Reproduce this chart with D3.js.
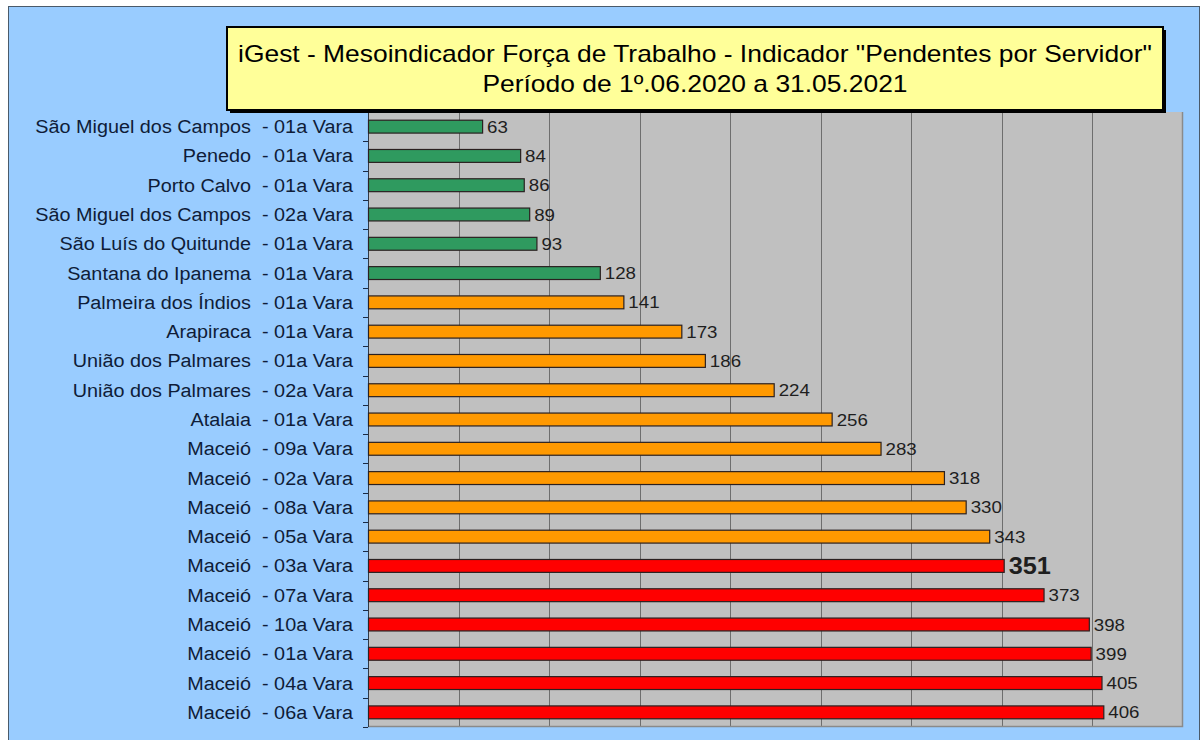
<!DOCTYPE html>
<html>
<head>
<meta charset="utf-8">
<script src="https://cdn.jsdelivr.net/npm/d3@7"></script>
<style>
  body { margin: 0; background: #fff; }
  text { font-family: "Liberation Sans", Arial, Helvetica, sans-serif; white-space: pre; }
</style>
</head>
<body>
<div id="chart"></div>
<script>
var categories = [
  "São Miguel dos Campos  - 01a Vara",
  "Penedo  - 01a Vara",
  "Porto Calvo  - 01a Vara",
  "São Miguel dos Campos  - 02a Vara",
  "São Luís do Quitunde  - 01a Vara",
  "Santana do Ipanema  - 01a Vara",
  "Palmeira dos Índios  - 01a Vara",
  "Arapiraca  - 01a Vara",
  "União dos Palmares  - 01a Vara",
  "União dos Palmares  - 02a Vara",
  "Atalaia  - 01a Vara",
  "Maceió  - 09a Vara",
  "Maceió  - 02a Vara",
  "Maceió  - 08a Vara",
  "Maceió  - 05a Vara",
  "Maceió  - 03a Vara",
  "Maceió  - 07a Vara",
  "Maceió  - 10a Vara",
  "Maceió  - 01a Vara",
  "Maceió  - 04a Vara",
  "Maceió  - 06a Vara"
];
var values = [63, 84, 86, 89, 93, 128, 141, 173, 186, 224, 256, 283, 318, 330, 343, 351, 373, 398, 399, 405, 406];
var tiers = ["g", "g", "g", "g", "g", "g", "o", "o", "o", "o", "o", "o", "o", "o", "o", "r", "r", "r", "r", "r", "r"];
var highlighted = "Maceió  - 03a Vara";
var xTicks = [0, 50, 100, 150, 200, 250, 300, 350, 400, 450];
var titleLines = [
  "iGest - Mesoindicador Força de Trabalho - Indicador \"Pendentes por Servidor\"",
  "Período de 1º.06.2020 a 31.05.2021"
];

var W = 1203, H = 740;
var margin = { top: 112, right: 20, bottom: 13, left: 368 };
var width = 1183 - margin.left,
  height = H - margin.top - margin.bottom;
var stretch = 1.1;

var color = d3.scaleOrdinal()
  .domain(["g", "o", "r"])
  .range(["#2f9a5f", "#ff9900", "#ff0000"]);

var svg = d3.select("#chart").append("svg")
  .attr("width", W)
  .attr("height", H);

// outer panel
svg.append("rect")
  .attr("x", 8.5).attr("y", 6.5)
  .attr("width", 1191).attr("height", 740)
  .attr("fill", "#99ccff")
  .attr("stroke", "#4a5a6a");

var g = svg.append("g")
  .attr("transform", "translate(" + margin.left + "," + margin.top + ")");

var x = d3.scaleLinear().domain([0, 450]).range([0, width]);
var y = d3.scaleBand().domain(categories).range([0, height]).paddingInner(0.56).paddingOuter(0.28);

g.append("rect")
  .attr("width", width).attr("height", height)
  .attr("fill", "#c0c0c0");

g.selectAll(".grid")
  .data(xTicks.slice(1, -1))
  .enter().append("line")
  .attr("x1", function(d) { return Math.round(x(d)) + 0.5; })
  .attr("x2", function(d) { return Math.round(x(d)) + 0.5; })
  .attr("y1", 0).attr("y2", height)
  .attr("stroke", "#6e6e6e");

// right / bottom border of plot
g.append("path")
  .attr("d", "M" + (width - 0.5) + ",0V" + (height - 0.5) + "H0")
  .attr("fill", "none")
  .attr("stroke", "#8a8a8a")
  .attr("stroke-width", 1.5);

// left axis, ticks sit on the band boundaries
var step = height / categories.length;
var bounds = d3.range(categories.length + 1).map(function(i) { return i * step; });
g.append("line")
  .attr("x1", 0.5).attr("x2", 0.5).attr("y1", 0).attr("y2", height)
  .attr("stroke", "#303844");
g.selectAll(".tick")
  .data(bounds.slice(1))
  .enter().append("line")
  .attr("x1", -5).attr("x2", 0)
  .attr("y1", function(d) { return Math.round(d) + 0.5; })
  .attr("y2", function(d) { return Math.round(d) + 0.5; })
  .attr("stroke", "#1a2a44");

var labels = g.selectAll(".cat")
  .data(categories)
  .enter().append("text")
  .attr("x", -15)
  .attr("y", function(d) { return y(d) + y.bandwidth() / 2; })
  .attr("dy", "0.36em")
  .attr("text-anchor", "end")
  .attr("fill", "#0f1c38")
  .style("font-size", "18px")
  .text(function(d) { return d; });

g.selectAll(".bar")
  .data(categories)
  .enter().append("rect")
  .attr("x", 0.5)
  .attr("y", function(d) { return y(d); })
  .attr("width", function(d, i) { return x(values[i]); })
  .attr("height", y.bandwidth())
  .attr("fill", function(d, i) { return color(tiers[i]); })
  .attr("stroke", "#2a2020")
  .attr("stroke-width", 1.2);

var vals = g.selectAll(".val")
  .data(categories)
  .enter().append("text")
  .attr("x", function(d, i) { return x(values[i]) + 5; })
  .attr("y", function(d) { return y(d) + y.bandwidth() / 2; })
  .attr("dy", "0.36em")
  .attr("fill", "#1e1e1e")
  .style("font-size", function(d) { return d === highlighted ? "23px" : "17px"; })
  .style("font-weight", function(d) { return d === highlighted ? "bold" : "normal"; })
  .text(function(d, i) { return values[i]; });

// the source text is drawn a bit wider than the font
function widen(sel) {
  sel.each(function() {
    var w = this.getComputedTextLength();
    d3.select(this).attr("textLength", w * stretch).attr("lengthAdjust", "spacingAndGlyphs");
  });
}
widen(labels);
widen(vals);

// title box
var tb = { x: 227, y: 27, w: 936, h: 83 };
svg.append("rect")
  .attr("x", tb.x + 3).attr("y", tb.y + 3)
  .attr("width", tb.w).attr("height", tb.h)
  .attr("fill", "#000");
svg.append("rect")
  .attr("x", tb.x).attr("y", tb.y)
  .attr("width", tb.w).attr("height", tb.h)
  .attr("fill", "#ffff99")
  .attr("stroke", "#000")
  .attr("stroke-width", 2);
var tt = svg.selectAll(".title")
  .data(titleLines)
  .enter().append("text")
  .attr("x", tb.x + tb.w / 2)
  .attr("y", function(d, i) { return 62 + i * 30; })
  .attr("text-anchor", "middle")
  .attr("fill", "#000")
  .style("font-size", "24px")
  .text(function(d) { return d; });
widen(tt);
</script>
</body>
</html>
